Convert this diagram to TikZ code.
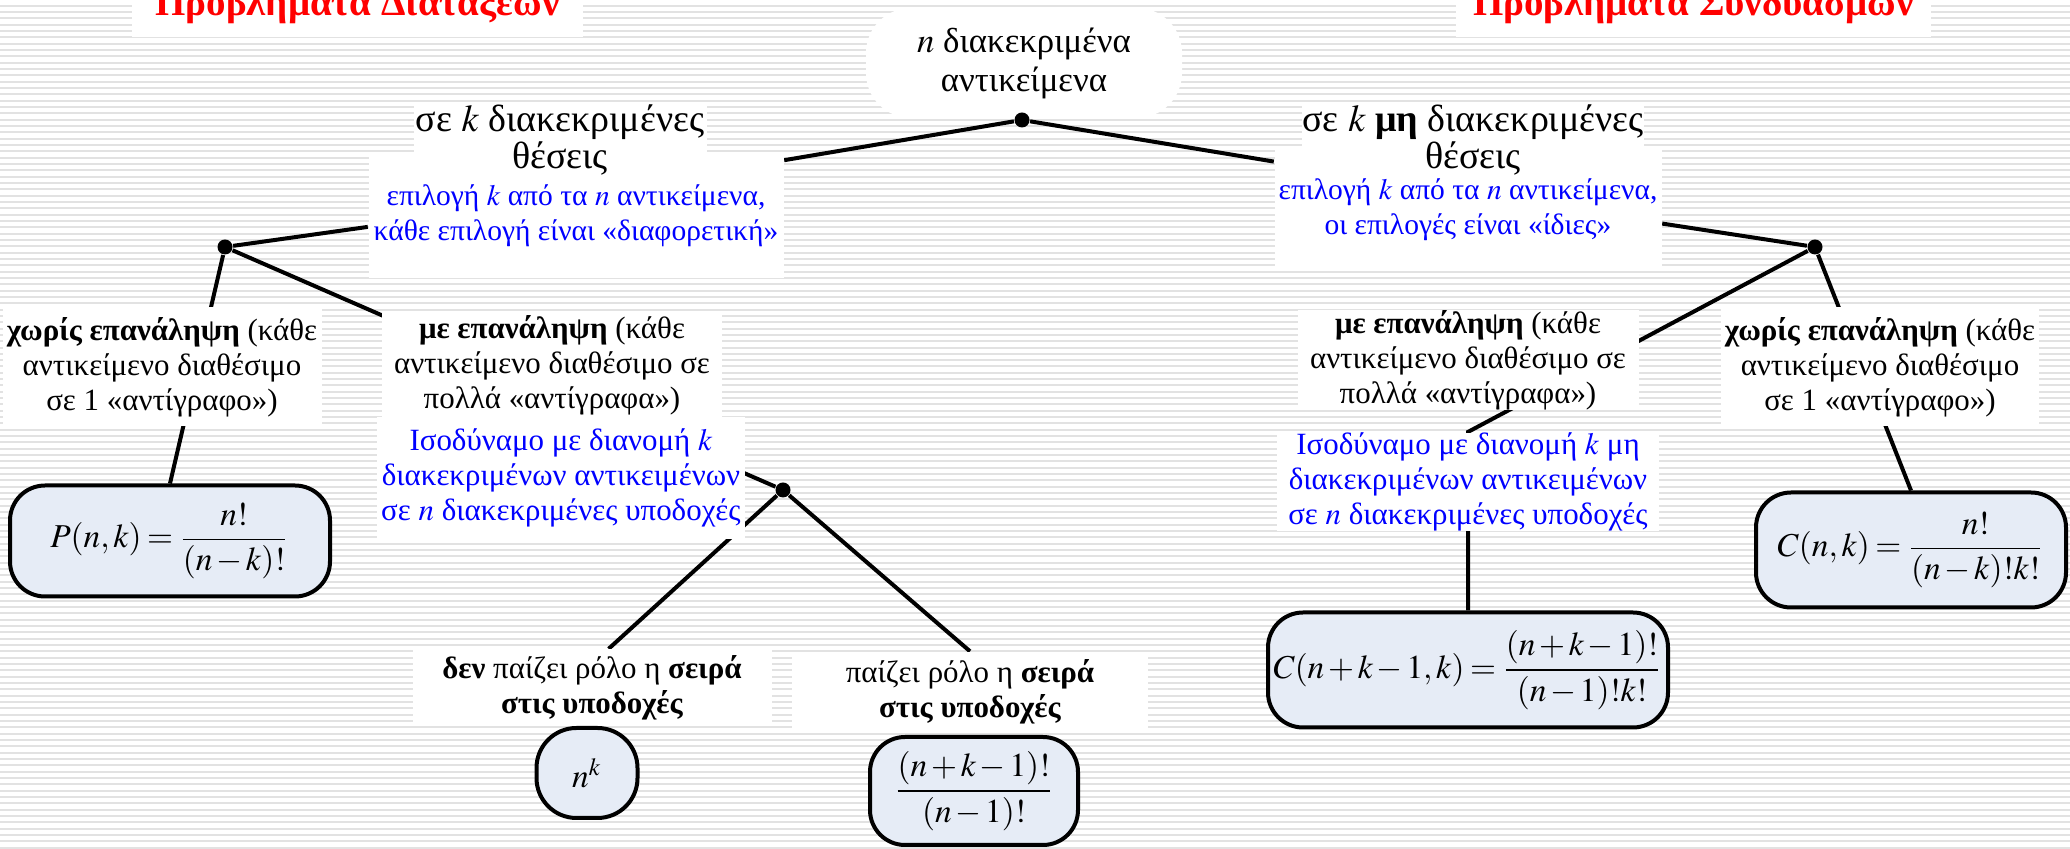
\documentclass[tikz,border=0pt]{standalone}
\usepackage{amsmath}
\usepackage{mathptmx}
\usepackage{fontspec}
\setmainfont{Liberation Serif}
\usetikzlibrary{positioning,calc}

\definecolor{formfill}{RGB}{230,236,246}
\definecolor{stripegray}{RGB}{226,226,226}
\pgfdeclarelayer{bg}
\pgfdeclarelayer{wires}
\pgfsetlayers{bg,wires,main}

\begin{document}
\begin{tikzpicture}[x=0.1mm, y=-0.1mm,
    txtbox/.style={rectangle, fill=white, inner sep=0pt, align=center, font=\fontsize{8.8pt}{10pt}\selectfont},
    bigbox/.style={txtbox, font=\fontsize{10.8pt}{10.4pt}\selectfont},
    selbox/.style={txtbox, text=blue, font=\fontsize{8.4pt}{10pt}\selectfont},
    rootbox/.style={txtbox, rounded corners=4.5mm, font=\fontsize{9.9pt}{11.1pt}\selectfont},
    formbox/.style={rectangle, draw, line width=0.4mm, rounded corners=3.5mm, fill=formfill, inner sep=0pt,
        font=\fontsize{9.5pt}{11pt}\selectfont,
        execute at begin node={\medmuskip=2mu\relax\thickmuskip=3mu\relax}},
    heading/.style={rectangle, fill=white, inner xsep=0pt, inner ysep=1.3mm, anchor=base, text=red, font=\fontsize{11.1pt}{13pt}\selectfont\bfseries},
    joint/.style={circle, fill=black, inner sep=0pt, minimum size=1.5mm},
    wire/.style={line width=0.4mm}
]
    \path[use as bounding box] (0,0) rectangle (2070,849);
    \clip (0,0) rectangle (2070,849);

    % titles
    \node[heading, minimum width=45.1mm] (permtitle) at (357.5,16) {Προβλήματα Διατάξεων};
    \node[heading, minimum width=47.5mm] (combtitle) at (1693.5,16) {Προβλήματα Συνδυασμών};

    % root
    \node[rootbox, minimum width=31.6mm, minimum height=11mm] (objs) at (1024,63) {$n$ διακεκριμένα\\αντικείμενα};
    \node[joint] (rootdot) at (1022,120) {};

    % first level
    \node[selbox, minimum width=41.5mm, minimum height=12.4mm] (permsel) at (576,216) {επιλογή $k$ από τα $n$ αντικείμενα,\\κάθε επιλογή είναι «διαφορετική»};
    \node[bigbox, minimum width=29.3mm, minimum height=7mm] (permpos) at (560,140) {σε $k$ διακεκριμένες\\θέσεις};
    \node[selbox, minimum width=38.7mm, minimum height=12mm] (combsel) at (1468,210) {επιλογή $k$ από τα $n$ αντικείμενα,\\οι επιλογές είναι «ίδιες»};
    \node[bigbox, minimum width=32.8mm, minimum height=7mm] (combpos) at (1473,140) {σε $k$ \textbf{μη} διακεκριμένες\\θέσεις};
    \node[joint] (l1dot) at (225,247) {};
    \node[joint] (r1dot) at (1815,247) {};

    % second level
    \node[txtbox, minimum width=31.9mm, minimum height=11.9mm] (permnorep) at (162,367) {\textbf{χωρίς επανάληψη} (κάθε\\αντικείμενο διαθέσιμο\\σε 1 «αντίγραφο»)};
    \node[txtbox, minimum width=34mm, minimum height=10.7mm] (permrep) at (552,365) {\textbf{με επανάληψη} (κάθε\\αντικείμενο διαθέσιμο σε\\πολλά «αντίγραφα»)};
    \node[txtbox, text=blue, minimum width=36.8mm, minimum height=12.2mm] (permdist) at (561,478) {Ισοδύναμο με διανομή $k$\\διακεκριμένων αντικειμένων\\σε $n$ διακεκριμένες υποδοχές};
    \node[joint] (l2dot) at (783,490) {};
    \node[txtbox, minimum width=34.1mm, minimum height=9.8mm] (combrep) at (1468,360) {\textbf{με επανάληψη} (κάθε\\αντικείμενο διαθέσιμο σε\\πολλά «αντίγραφα»)};
    \node[txtbox, text=blue, minimum width=38.2mm, minimum height=9.6mm] (combdist) at (1468,482) {Ισοδύναμο με διανομή $k$ μη\\διακεκριμένων αντικειμένων\\σε $n$ διακεκριμένες υποδοχές};
    \node[txtbox, minimum width=31.8mm, minimum height=11.9mm] (combnorep) at (1880,367) {\textbf{χωρίς επανάληψη} (κάθε\\αντικείμενο διαθέσιμο\\σε 1 «αντίγραφο»)};

    % third level
    \node[txtbox, minimum width=35.9mm, minimum height=7.7mm] (noorder) at (592,688) {\textbf{δεν} παίζει ρόλο η \textbf{σειρά}\\\textbf{στις υποδοχές}};
    \node[txtbox, minimum width=35.6mm, minimum height=8mm] (order) at (970,692) {παίζει ρόλο η \textbf{σειρά}\\\textbf{στις υποδοχές}};

    % results
    \node[formbox, minimum width=32mm, minimum height=11.1mm] (pnk) at (170,541) {$P(n,k)=\dfrac{n!}{(n-k)!}$};
    \node[formbox, minimum width=31mm, minimum height=11.5mm] (cnk) at (1911,550) {$C(n,k)=\dfrac{n!}{(n-k)!k!}$};
    \node[formbox, minimum width=40mm, minimum height=11.5mm] (crep) at (1468,670) {$C(n+k-1,k)=\dfrac{(n+k-1)!}{(n-1)!k!}$};
    \node[formbox, rounded corners=4mm, minimum width=10.1mm, minimum height=9mm] (nk) at (587,773) {$n^k$};
    \node[formbox, minimum width=20.8mm, minimum height=10.8mm] (ordfrac) at (974,791) {$\dfrac{(n+k-1)!}{(n-1)!}$};

    \begin{pgfonlayer}{wires}
        \draw[wire] (rootdot) -- (permsel.15);
        \draw[wire] (rootdot) -- (combsel.166);
        \draw[wire] (l1dot) -- (permsel.183);
        \draw[wire] (r1dot) -- (combsel.-4);
        \draw[wire] (l1dot) -- (pnk.north);
        \draw[wire] (l1dot) -- (l2dot);
        \draw[wire] (r1dot) -- (cnk.north);
        \draw[wire] (r1dot) -- (crep.north |- combdist.north) -- (crep.north);
        \draw[wire] (l2dot) -- (noorder.67);
        \draw[wire] (l2dot) -- (order.north);
    \end{pgfonlayer}

    \begin{pgfonlayer}{bg}
        \fill[white] (0,0) rectangle (2070,849);
        \foreach \i in {0,...,133}
            \draw[stripegray, line width=0.2mm] (0,5.7+6.33*\i) -- (2070,5.7+6.33*\i);
    \end{pgfonlayer}
\end{tikzpicture}
\end{document}
